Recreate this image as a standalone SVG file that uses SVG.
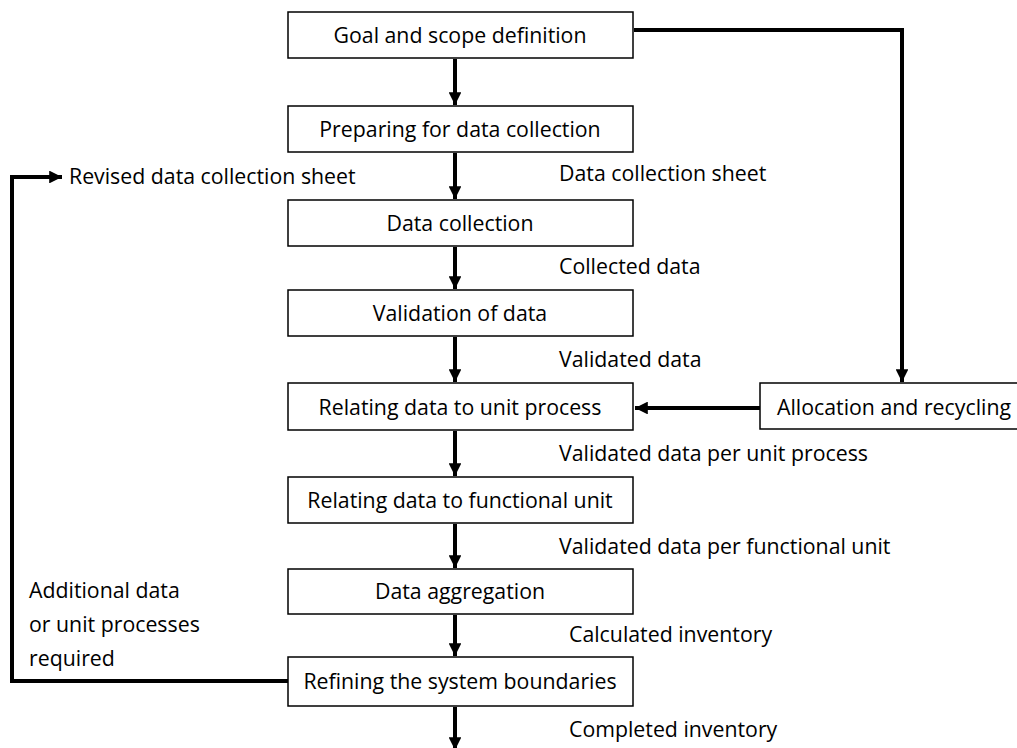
<svg xmlns="http://www.w3.org/2000/svg" width="1017" height="748" viewBox="0 0 1017 748">
  <style>
    .box { fill: #ffffff; stroke: #000000; stroke-width: 1.5; }
    .lbl { font-family: "Open Sans", "Liberation Sans", sans-serif; font-size: 21.3px; fill: #000000; }
    .mid { text-anchor: middle; }
    .wire { fill: none; stroke: #000000; stroke-width: 4; }
  </style>
  <defs>
    <marker id="head" viewBox="0 0 10 10" refX="10" refY="5" markerWidth="3.2" markerHeight="3.2" markerUnits="strokeWidth" orient="auto">
      <path d="M0,0 L10,5 L0,10 z" fill="#000000"/>
    </marker>
  </defs>
  <rect width="1017" height="748" fill="#ffffff"/>

  <g id="connectors">
    <line class="wire" x1="455" y1="59" x2="455" y2="105" marker-end="url(#head)"/>
    <line class="wire" x1="455" y1="153" x2="455" y2="199" marker-end="url(#head)"/>
    <line class="wire" x1="455" y1="247" x2="455" y2="289" marker-end="url(#head)"/>
    <line class="wire" x1="455" y1="337" x2="455" y2="382" marker-end="url(#head)"/>
    <line class="wire" x1="455" y1="431" x2="455" y2="476" marker-end="url(#head)"/>
    <line class="wire" x1="455" y1="524" x2="455" y2="568" marker-end="url(#head)"/>
    <line class="wire" x1="455" y1="615" x2="455" y2="656" marker-end="url(#head)"/>
    <line class="wire" x1="455" y1="707" x2="455" y2="750" marker-end="url(#head)"/>
    <polyline class="wire" points="634,30 902,30 902,382" marker-end="url(#head)"/>
    <line class="wire" x1="760" y1="408" x2="635" y2="408" marker-end="url(#head)"/>
    <polyline class="wire" points="288,681 12,681 12,177 62,177" marker-end="url(#head)"/>
  </g>

  <g id="goal">
    <rect class="box" x="288" y="12" width="345" height="46"/>
    <text class="lbl mid" x="460" y="43">Goal and scope definition</text>
  </g>
  <g id="preparing">
    <rect class="box" x="288" y="106" width="345" height="46"/>
    <text class="lbl mid" x="460" y="137">Preparing for data collection</text>
  </g>
  <g id="collection">
    <rect class="box" x="288" y="200" width="345" height="46"/>
    <text class="lbl mid" x="460" y="231">Data collection</text>
  </g>
  <g id="validation">
    <rect class="box" x="288" y="290" width="345" height="46"/>
    <text class="lbl mid" x="460" y="321">Validation of data</text>
  </g>
  <g id="unit-process">
    <rect class="box" x="288" y="383" width="345" height="47"/>
    <text class="lbl mid" x="460" y="415">Relating data to unit process</text>
  </g>
  <g id="functional-unit">
    <rect class="box" x="288" y="477" width="345" height="46"/>
    <text class="lbl mid" x="460" y="508">Relating data to functional unit</text>
  </g>
  <g id="aggregation">
    <rect class="box" x="288" y="569" width="345" height="45"/>
    <text class="lbl mid" x="460" y="599">Data aggregation</text>
  </g>
  <g id="refining">
    <rect class="box" x="288" y="657" width="345" height="49"/>
    <text class="lbl mid" x="460" y="689">Refining the system boundaries</text>
  </g>
  <g id="allocation">
    <rect class="box" x="760" y="383" width="270" height="46"/>
    <text class="lbl" x="777" y="415">Allocation and recycling</text>
  </g>

  <g id="labels">
    <text class="lbl" x="69" y="184">Revised data collection sheet</text>
    <text class="lbl" x="559" y="181">Data collection sheet</text>
    <text class="lbl" x="559" y="274">Collected data</text>
    <text class="lbl" x="559" y="367">Validated data</text>
    <text class="lbl" x="559" y="461">Validated data per unit process</text>
    <text class="lbl" x="559" y="554">Validated data per functional unit</text>
    <text class="lbl" x="569" y="642">Calculated inventory</text>
    <text class="lbl" x="569" y="737">Completed inventory</text>
    <text class="lbl" x="29" y="598">Additional data</text>
    <text class="lbl" x="29" y="632">or unit processes</text>
    <text class="lbl" x="29" y="666">required</text>
  </g>
</svg>
